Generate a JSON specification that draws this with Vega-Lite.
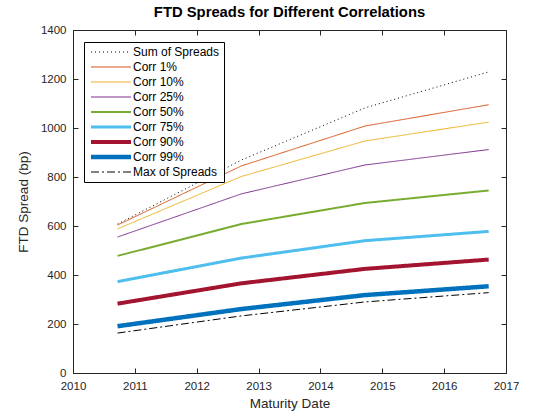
{
  "$schema": "https://vega.github.io/schema/vega-lite/v6.json",
  "width": 433,
  "height": 343,
  "autosize": "none",
  "padding": {"left": 73, "top": 30, "right": 54, "bottom": 47},
  "background": "white",
  "config": {
    "font": "Liberation Sans",
    "view": {"stroke": "#262626", "strokeWidth": 1},
    "axis": {"grid": false, "domainColor": "#262626", "tickColor": "#262626", "labelColor": "#262626", "titleColor": "#262626", "labelFontSize": 11.5, "titleFontSize": 13.5, "titleFontWeight": "normal", "labelFont": "Liberation Sans", "titleFont": "Liberation Sans", "labelFlush": false, "labelOverlap": false}
  },
  "title": {"text": "FTD Spreads for Different Correlations", "fontSize": 14.8, "fontWeight": "bold", "color": "#000000", "offset": 4, "font": "Liberation Sans"},
  "data": {"values": [
    {"series": "Sum of Spreads", "date": 2010.72, "spread": 608},
    {"series": "Sum of Spreads", "date": 2012.72, "spread": 869},
    {"series": "Sum of Spreads", "date": 2014.72, "spread": 1082},
    {"series": "Sum of Spreads", "date": 2016.72, "spread": 1229},
    {"series": "Corr 1%", "date": 2010.72, "spread": 604},
    {"series": "Corr 1%", "date": 2012.72, "spread": 845},
    {"series": "Corr 1%", "date": 2014.72, "spread": 1008},
    {"series": "Corr 1%", "date": 2016.72, "spread": 1095},
    {"series": "Corr 10%", "date": 2010.72, "spread": 588},
    {"series": "Corr 10%", "date": 2012.72, "spread": 802},
    {"series": "Corr 10%", "date": 2014.72, "spread": 947},
    {"series": "Corr 10%", "date": 2016.72, "spread": 1024},
    {"series": "Corr 25%", "date": 2010.72, "spread": 555},
    {"series": "Corr 25%", "date": 2012.72, "spread": 731},
    {"series": "Corr 25%", "date": 2014.72, "spread": 849},
    {"series": "Corr 25%", "date": 2016.72, "spread": 912},
    {"series": "Corr 50%", "date": 2010.72, "spread": 478},
    {"series": "Corr 50%", "date": 2012.72, "spread": 608},
    {"series": "Corr 50%", "date": 2014.72, "spread": 694},
    {"series": "Corr 50%", "date": 2016.72, "spread": 745},
    {"series": "Corr 75%", "date": 2010.72, "spread": 373},
    {"series": "Corr 75%", "date": 2012.72, "spread": 469},
    {"series": "Corr 75%", "date": 2014.72, "spread": 540},
    {"series": "Corr 75%", "date": 2016.72, "spread": 578},
    {"series": "Corr 90%", "date": 2010.72, "spread": 283},
    {"series": "Corr 90%", "date": 2012.72, "spread": 366},
    {"series": "Corr 90%", "date": 2014.72, "spread": 425},
    {"series": "Corr 90%", "date": 2016.72, "spread": 463},
    {"series": "Corr 99%", "date": 2010.72, "spread": 191},
    {"series": "Corr 99%", "date": 2012.72, "spread": 261},
    {"series": "Corr 99%", "date": 2014.72, "spread": 318},
    {"series": "Corr 99%", "date": 2016.72, "spread": 354},
    {"series": "Max of Spreads", "date": 2010.72, "spread": 163},
    {"series": "Max of Spreads", "date": 2012.72, "spread": 233},
    {"series": "Max of Spreads", "date": 2014.72, "spread": 290},
    {"series": "Max of Spreads", "date": 2016.72, "spread": 328}
  ]},
  "layer": [
    {
      "mark": {"type": "line", "strokeCap": "butt"},
      "encoding": {
        "x": {"field": "date", "type": "quantitative", "scale": {"domain": [2010, 2017], "nice": false, "zero": false}, "axis": {"title": "Maturity Date", "format": "d", "values": [2010, 2011, 2012, 2013, 2014, 2015, 2016, 2017], "tickSize": -5, "labelPadding": 12, "titlePadding": 5}},
        "y": {"field": "spread", "type": "quantitative", "scale": {"domain": [0, 1400], "nice": false}, "axis": {"title": "FTD Spread (bp)", "format": "d", "values": [0, 200, 400, 600, 800, 1000, 1200, 1400], "tickSize": -5, "labelPadding": 12, "titlePadding": 10}},
        "color": {"field": "series", "type": "nominal", "scale": {"domain": ["Sum of Spreads", "Corr 1%", "Corr 10%", "Corr 25%", "Corr 50%", "Corr 75%", "Corr 90%", "Corr 99%", "Max of Spreads"], "range": ["#000000", "#D95319", "#EDB120", "#7E2F8E", "#77AC30", "#4DBEEE", "#A2142F", "#0072BD", "#000000"]}, "legend": {"title": null, "orient": "none", "legendX": 11, "legendY": 12, "strokeColor": "#000000", "fillColor": "#ffffff", "padding": 4, "symbolType": "M-1.5,0H18.5", "symbolSize": 16, "labelFontSize": 12, "labelColor": "#000000", "labelOffset": 33, "rowPadding": -3.8, "gridAlign": "all"}},
        "strokeDash": {"field": "series", "type": "nominal", "scale": {"domain": ["Sum of Spreads", "Corr 1%", "Corr 10%", "Corr 25%", "Corr 50%", "Corr 75%", "Corr 90%", "Corr 99%", "Max of Spreads"], "range": [[1, 3], [1, 0], [1, 0], [1, 0], [1, 0], [1, 0], [1, 0], [1, 0], [8, 3, 2, 3]]}, "legend": null},
        "strokeWidth": {"field": "series", "type": "nominal", "scale": {"type": "ordinal", "domain": ["Sum of Spreads", "Corr 1%", "Corr 10%", "Corr 25%", "Corr 50%", "Corr 75%", "Corr 90%", "Corr 99%", "Max of Spreads"], "range": [1, 1, 1, 1, 2, 3, 4, 4.5, 1]}, "legend": null},
        "order": {"field": "date", "type": "quantitative"}
      }
    },
    {
      "mark": {"type": "line", "strokeOpacity": 0},
      "encoding": {
        "x": {"field": "date", "type": "quantitative", "axis": {"orient": "top", "labels": false, "title": null, "domain": false, "values": [2010, 2011, 2012, 2013, 2014, 2015, 2016, 2017], "tickSize": -5}},
        "y": {"field": "spread", "type": "quantitative", "axis": {"orient": "right", "labels": false, "title": null, "domain": false, "values": [0, 200, 400, 600, 800, 1000, 1200, 1400], "tickSize": -5}},
        "detail": {"field": "series"}
      }
    }
  ],
  "resolve": {"axis": {"x": "independent", "y": "independent"}}
}
